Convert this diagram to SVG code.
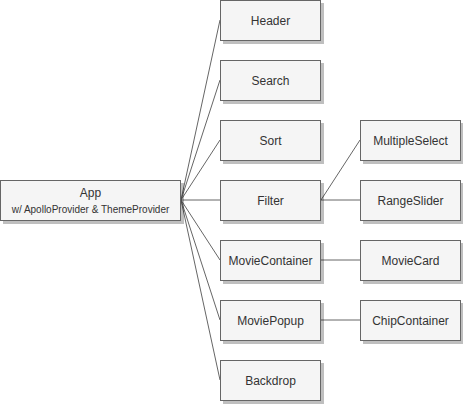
<svg xmlns="http://www.w3.org/2000/svg" width="463" height="404" viewBox="0 0 463 404">
<defs>
<filter id="sh" x="-10%" y="-10%" width="130%" height="140%">
<feOffset in="SourceAlpha" dx="3" dy="3" result="o"/>
<feFlood flood-color="#000" flood-opacity="0.25"/>
<feComposite in2="o" operator="in" result="s"/>
<feMerge><feMergeNode in="s"/><feMergeNode in="SourceGraphic"/></feMerge>
</filter>
</defs>
<style>
.box{fill:#f5f5f5;stroke:#666;stroke-width:1;filter:url(#sh)}
.t{font-family:"Liberation Sans",Arial,sans-serif;font-size:12px;fill:#333;text-anchor:middle;dominant-baseline:central}
.s{font-size:10px}
.c{stroke:#666;stroke-width:1;fill:none}
</style>
<rect width="463" height="404" fill="#fff"/>
<g id="connectors">
<path class="c" d="M181 200 L220 20"/>
<path class="c" d="M181 200 L220 80"/>
<path class="c" d="M181 200 L220 140"/>
<path class="c" d="M181 200 L220 200"/>
<path class="c" d="M181 200 L220 260"/>
<path class="c" d="M181 200 L220 320"/>
<path class="c" d="M181 200 L220 380"/>
<path class="c" d="M321 200 L360 140"/>
<path class="c" d="M321 200 L360 200"/>
<path class="c" d="M321 260 L360 260"/>
<path class="c" d="M321 320 L360 320"/>
</g>
<g id="app"><rect class="box" x="0.5" y="180.5" width="180" height="40"/><text class="t" x="90.5" y="193">App</text><text class="t s" x="90.5" y="209">w/ ApolloProvider &amp; ThemeProvider</text></g>
<g id="header"><rect class="box" x="220.5" y="0.5" width="100" height="40"/><text class="t" x="270.5" y="20.5">Header</text></g>
<g id="search"><rect class="box" x="220.5" y="60.5" width="100" height="40"/><text class="t" x="270.5" y="80.5">Search</text></g>
<g id="sort"><rect class="box" x="220.5" y="120.5" width="100" height="40"/><text class="t" x="270.5" y="140.5">Sort</text></g>
<g id="filter"><rect class="box" x="220.5" y="180.5" width="100" height="40"/><text class="t" x="270.5" y="200.5">Filter</text></g>
<g id="moviecontainer"><rect class="box" x="220.5" y="240.5" width="100" height="40"/><text class="t" x="270.5" y="260.5">MovieContainer</text></g>
<g id="moviepopup"><rect class="box" x="220.5" y="300.5" width="100" height="40"/><text class="t" x="270.5" y="320.5">MoviePopup</text></g>
<g id="backdrop"><rect class="box" x="220.5" y="360.5" width="100" height="40"/><text class="t" x="270.5" y="380.5">Backdrop</text></g>
<g id="multipleselect"><rect class="box" x="360.5" y="120.5" width="100" height="40"/><text class="t" x="410.5" y="140.5">MultipleSelect</text></g>
<g id="rangeslider"><rect class="box" x="360.5" y="180.5" width="100" height="40"/><text class="t" x="410.5" y="200.5">RangeSlider</text></g>
<g id="moviecard"><rect class="box" x="360.5" y="240.5" width="100" height="40"/><text class="t" x="410.5" y="260.5">MovieCard</text></g>
<g id="chipcontainer"><rect class="box" x="360.5" y="300.5" width="100" height="40"/><text class="t" x="410.5" y="320.5">ChipContainer</text></g>
</svg>
